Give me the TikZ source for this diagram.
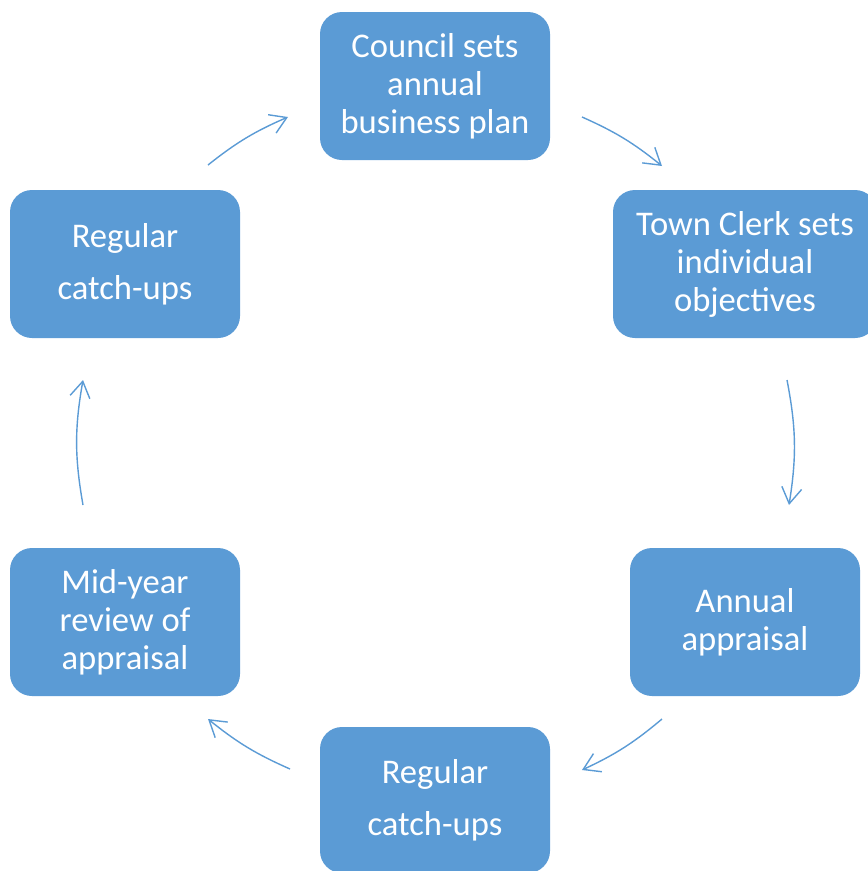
\documentclass[tikz,border=0pt]{standalone}
\usepackage{fontspec}
\setmainfont{Carlito}
\usetikzlibrary{arrows.meta}
\definecolor{boxblue}{HTML}{5B9BD5}
\definecolor{arrowblue}{HTML}{5B9BD5}
\tikzset{
  stepbox/.style={fill=boxblue, draw=none, rounded corners=22pt, text=white,
    align=center, inner sep=0pt, font=\fontsize{34.6}{38}\selectfont},
  cyclearrow/.style={draw=arrowblue, line width=1.4pt,
    -{Straight Barb[length=16pt, width=20pt, line width=1.4pt]}}
}
\begin{document}
\begin{tikzpicture}[x=1pt, y=-1pt]
\useasboundingbox (0,0) rectangle (868,871);
\clip (0,0) rectangle (868,871);
\node[stepbox, minimum width=230pt, minimum height=148pt] (plan) at (435,86) {Council sets\\annual\\business plan};
\node[stepbox, minimum width=264pt, minimum height=148pt] (clerk) at (745,264) {Town Clerk sets\\individual\\objectives};
\node[stepbox, minimum width=230pt, minimum height=148pt] (appr) at (745,622) {Annual\\appraisal};
\node[stepbox, minimum width=230pt, minimum height=146pt] (catchb) at (435,800) {Regular\\[14pt]catch-ups};
\node[stepbox, minimum width=230pt, minimum height=148pt] (mid) at (125,622) {Mid-year\\review of\\appraisal};
\node[stepbox, minimum width=230pt, minimum height=148pt] (catcht) at (125,264) {Regular\\[14pt]catch-ups};
% arrow end points on a circle centred at (435,442), radius 357
\coordinate (a1s) at (208,165);
\coordinate (a1e) at (288,117);
\coordinate (a2s) at (582,117);
\coordinate (a2e) at (662,166);
\coordinate (a3s) at (787,380);
\coordinate (a3e) at (789,505);
\coordinate (a4s) at (662,719);
\coordinate (a4e) at (582,770);
\coordinate (a5s) at (290,769);
\coordinate (a5e) at (208,719);
\coordinate (a6s) at (83,505);
\coordinate (a6e) at (83,380);
\draw[cyclearrow] (a1s) to[bend left=7.5] (a1e);
\draw[cyclearrow] (a2s) to[bend left=7.5] (a2e);
\draw[cyclearrow] (a3s) to[bend left=10] (a3e);
\draw[cyclearrow] (a4s) to[bend left=7.5] (a4e);
\draw[cyclearrow] (a5s) to[bend left=7.5] (a5e);
\draw[cyclearrow] (a6s) to[bend left=10] (a6e);
\end{tikzpicture}
\end{document}
